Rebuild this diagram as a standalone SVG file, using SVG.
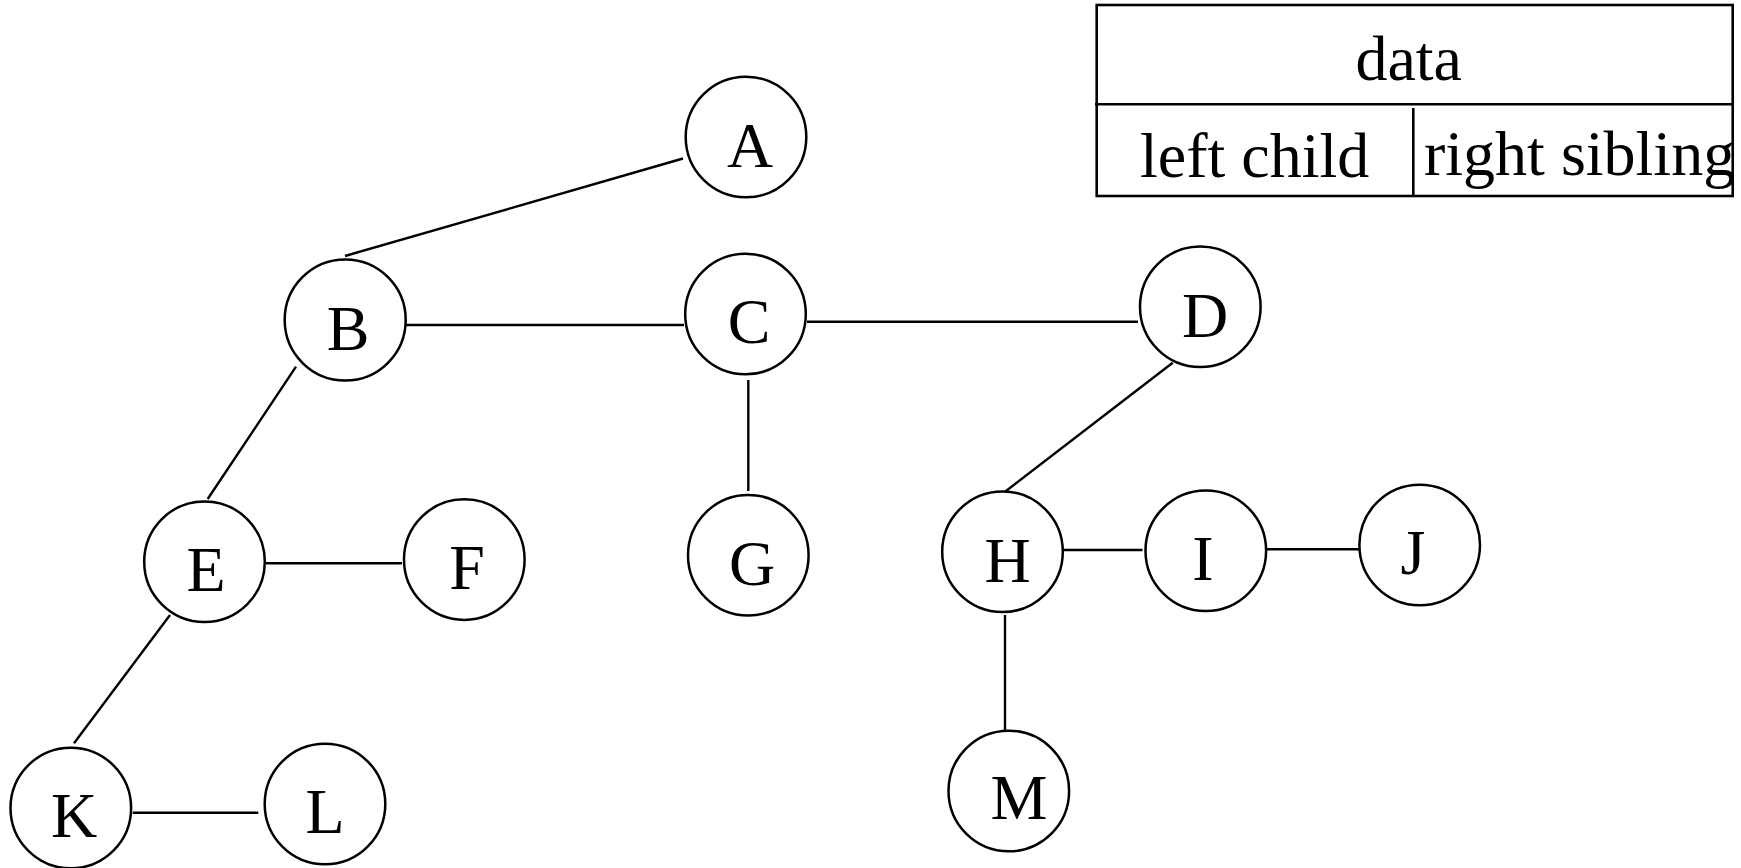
<svg xmlns="http://www.w3.org/2000/svg" width="1741" height="868" viewBox="0 0 1741 868">
<style>
.node circle{fill:#fff;stroke:#000;stroke-width:2.5}
.node text,.tbl text{font-family:"Liberation Serif","Times New Roman",serif;font-size:64px;fill:#000}
.node text{text-anchor:middle}
.edges line{stroke:#000;stroke-width:2.4}
.tbl line,.tbl rect{stroke:#000;stroke-width:2.6;fill:none}
</style>
<rect width="1741" height="868" fill="#fff"/>
<g class="edges" id="edges">
<line x1="683" y1="158.5" x2="345" y2="256"/>
<line x1="406" y1="325" x2="684" y2="325"/>
<line x1="807" y1="321.7" x2="1138" y2="321.7"/>
<line x1="296" y1="366.7" x2="207.7" y2="499"/>
<line x1="748.3" y1="380" x2="748.3" y2="491"/>
<line x1="1172.7" y1="362.7" x2="1005" y2="491.7"/>
<line x1="266" y1="563.3" x2="402" y2="563.3"/>
<line x1="170" y1="615" x2="74" y2="743.3"/>
<line x1="132.7" y1="812.7" x2="258.3" y2="812.7"/>
<line x1="1063" y1="550" x2="1142.5" y2="550"/>
<line x1="1267" y1="549.3" x2="1359" y2="549.3"/>
<line x1="1005" y1="615" x2="1005" y2="731"/>
</g>
<g class="node" id="A"><circle cx="746" cy="137" r="60.3"/><text x="750" y="166.7">A</text></g>
<g class="node" id="B"><circle cx="345.2" cy="320" r="60.5"/><text x="348" y="350">B</text></g>
<g class="node" id="C"><circle cx="745.5" cy="314" r="60.3"/><text x="749" y="343">C</text></g>
<g class="node" id="D"><circle cx="1200.3" cy="306.7" r="60.3"/><text x="1205" y="336.7">D</text></g>
<g class="node" id="E"><circle cx="204.5" cy="561.7" r="60.3"/><text x="206" y="591">E</text></g>
<g class="node" id="F"><circle cx="464.3" cy="559.6" r="60.3"/><text x="467" y="589">F</text></g>
<g class="node" id="G"><circle cx="748.3" cy="555.2" r="60.3"/><text x="752" y="585">G</text></g>
<g class="node" id="H"><circle cx="1002.5" cy="551.7" r="60.3"/><text x="1007.7" y="581.7">H</text></g>
<g class="node" id="I"><circle cx="1205.8" cy="550.7" r="60.3"/><text x="1203" y="580">I</text></g>
<g class="node" id="J"><circle cx="1419.7" cy="545" r="60.3"/><text x="1413" y="574">J</text></g>
<g class="node" id="K"><circle cx="70.8" cy="808" r="60.3"/><text x="74" y="837">K</text></g>
<g class="node" id="L"><circle cx="325" cy="804" r="60.3"/><text x="325" y="833">L</text></g>
<g class="node" id="M"><circle cx="1008.8" cy="791" r="60.3"/><text x="1019" y="819.3">M</text></g>
<g class="tbl" id="table">
<rect x="1096.7" y="5" width="636" height="191"/>
<line x1="1095" y1="104.3" x2="1733" y2="104.3"/>
<line x1="1413.3" y1="108" x2="1413.3" y2="197"/>
<text x="1355.4" y="80">data</text>
<text x="1140" y="176.7">left child</text>
<text x="1424" y="175">right sibling</text>
</g>
</svg>
